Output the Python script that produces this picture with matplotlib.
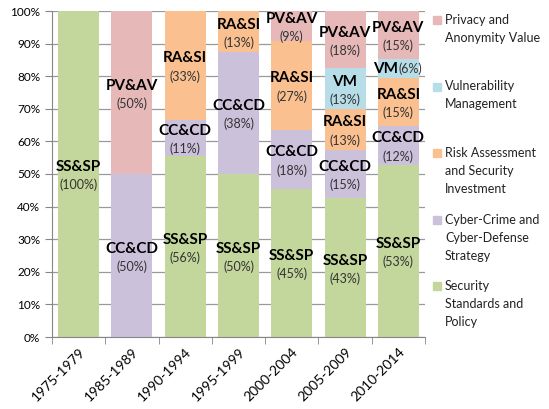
import numpy as np
import matplotlib.pyplot as plt
from matplotlib.patches import Rectangle

plt.rcParams["font.family"] = ["Lato", "DejaVu Sans"]

periods = ["1975-1979", "1985-1989", "1990-1994", "1995-1999",
           "2000-2004", "2005-2009", "2010-2014"]

# share of papers per topic (%), bottom to top
ss_sp = [100.0, 0.0, 55.6, 50.0, 45.4, 42.5, 52.9]
cc_cd = [0.0, 50.0, 11.1, 37.5, 18.2, 15.0, 11.8]
ra_si = [0.0, 0.0, 33.3, 12.5, 27.3, 12.5, 14.7]
vm = [0.0, 0.0, 0.0, 0.0, 0.0, 12.5, 5.9]
pv_av = [0.0, 50.0, 0.0, 0.0, 9.1, 17.5, 14.7]

series = [
    ("SS&SP", ss_sp, "#c3d69b", "Security\nStandards and\nPolicy"),
    ("CC&CD", cc_cd, "#ccc1da", "Cyber-Crime and\nCyber-Defense\nStrategy"),
    ("RA&SI", ra_si, "#fac090", "Risk Assessment\nand Security\nInvestment"),
    ("VM", vm, "#b7dee8", "Vulnerability\nManagement"),
    ("PV&AV", pv_av, "#e6b9b8", "Privacy and\nAnonymity Value"),
]

fig = plt.figure(figsize=(5.49, 4.09), dpi=100)
ax = fig.add_axes([52 / 549, 72 / 409, 373 / 549, 326 / 409])

x = np.arange(len(periods))
bottom = np.zeros(len(periods))
for abbr, vals, color, _ in series:
    vals = np.array(vals)
    ax.bar(x, vals, bottom=bottom, width=0.77, color=color, zorder=2)
    for i, v in enumerate(vals):
        if v <= 0:
            continue
        mid = bottom[i] + v / 2
        pct = f"({int(v + 0.5)}%)"
        if v < 8:
            # small slice: name and value on one line
            ax.text(x[i], mid, abbr, ha="right", va="center",
                    fontsize=11, fontweight="bold", zorder=3)
            ax.text(x[i], mid, pct, ha="left", va="center",
                    fontsize=9, color="#333333", zorder=3)
        else:
            ax.text(x[i], mid + 2.1, abbr, ha="center", va="center",
                    fontsize=11, fontweight="bold", zorder=3)
            ax.text(x[i], mid - 3.4, pct, ha="center", va="center",
                    fontsize=9, color="#333333", zorder=3)
    bottom += vals

ax.set_xlim(-0.5, len(periods) - 0.5)
ax.set_ylim(0, 100)
ax.set_yticks(np.arange(0, 101, 10))
ax.set_yticklabels([f"{t}%" for t in range(0, 101, 10)], fontsize=8.5)
ax.set_xticks(x)
ax.set_xticklabels(periods, rotation=45, ha="right", rotation_mode="anchor",
                   fontsize=10)
ax.tick_params(axis="x", length=0, pad=6)
ax.set_xticks(np.arange(-0.5, len(periods)), minor=True)
ax.tick_params(axis="x", which="minor", length=5, color="#868686")
ax.tick_params(axis="y", length=5, color="#868686")
ax.yaxis.grid(True, color="#9a9a9a", linewidth=0.9, zorder=0)
ax.set_axisbelow(True)
for side in ["top", "right"]:
    ax.spines[side].set_visible(False)
for side in ["left", "bottom"]:
    ax.spines[side].set_color("#868686")

# legend, top entry first
for k, (_, _, color, label) in enumerate(series[::-1]):
    ytop = 1 - (14 + 66.5 * k) / 409
    fig.patches.append(Rectangle((433 / 549, ytop - 10 / 409), 8 / 549, 8 / 409,
                                 transform=fig.transFigure, color=color))
    fig.text(445 / 549, ytop, label, ha="left", va="top", fontsize=9,
             linespacing=1.6, color="#222222")

fig.savefig("out.png", dpi=100)
